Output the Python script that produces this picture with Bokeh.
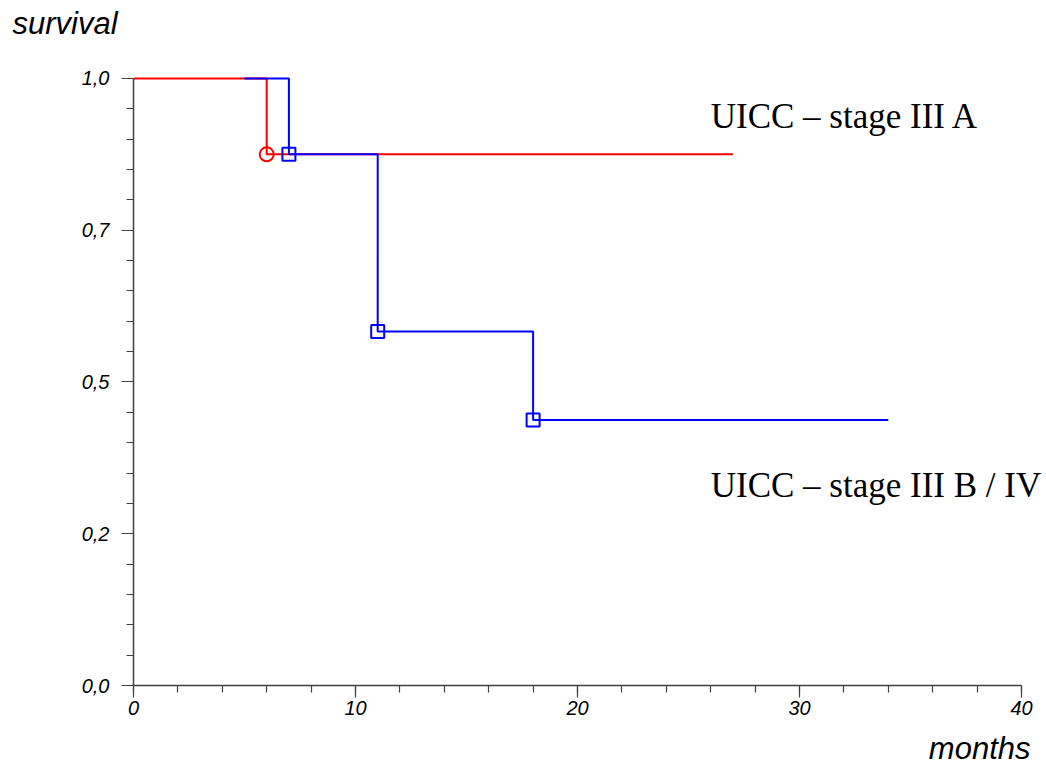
from bokeh.plotting import figure
from bokeh.models import Range1d, FixedTicker, Label, Title
from bokeh.embed import file_html
from bokeh.resources import INLINE

# ---- data ----
red_time = [0, 6, 27]
red_surv = [1.0, 0.875, 0.875]
red_event_time = [6]
red_event_surv = [0.875]

blue_time = [5, 7, 11, 18, 34]
blue_surv = [1.0, 0.875, 0.5833, 0.4375, 0.4375]
blue_event_time = [7, 11, 18]
blue_event_surv = [0.875, 0.5833, 0.4375]

x_tick_values = [0, 10, 20, 30, 40]
x_minor_values = list(range(0, 41, 2))
y_tick_values = [0.0, 0.25, 0.5, 0.75, 1.0]
y_tick_labels = ["0,0", "0,2", "0,5", "0,7", "1,0"]
y_minor_values = [i * 0.05 for i in range(21)]

label_a = "UICC – stage III A"
label_b = "UICC – stage III B / IV"

W, H = 1046, 765
p = figure(width=W, height=H, output_backend="svg", toolbar_location=None,
           x_range=Range1d(0, 40.99), y_range=Range1d(0, 1.0049),
           min_border_left=133, min_border_right=3, min_border_top=75,
           min_border_bottom=79)
p.outline_line_color = None
p.grid.visible = False
p.background_fill_color = "white"
p.border_fill_color = "white"

sans = "Liberation Sans"
for ax in (p.xaxis[0], p.yaxis[0]):
    ax.axis_line_color = "#404040"
    ax.axis_line_width = 1.5
    ax.major_tick_line_color = "#404040"
    ax.minor_tick_line_color = "#404040"
    ax.major_tick_line_width = 1.2
    ax.minor_tick_line_width = 1.2
    ax.major_tick_in = 0
    ax.minor_tick_in = 0
    ax.major_tick_out = 12
    ax.minor_tick_out = 7
    ax.major_label_text_font = sans
    ax.major_label_text_font_style = "italic"
    ax.major_label_text_font_size = "20px"
    ax.major_label_text_color = "black"

p.xaxis.bounds = (0, 40)
p.yaxis.bounds = (0, 1)
p.xaxis.ticker = FixedTicker(ticks=x_tick_values, minor_ticks=x_minor_values)
p.yaxis.ticker = FixedTicker(ticks=y_tick_values, minor_ticks=y_minor_values)
p.yaxis.major_label_overrides = {v: l for v, l in zip(y_tick_values, y_tick_labels)}
p.xaxis.major_label_standoff = 3
p.yaxis.major_label_standoff = 12

p.step(red_time, red_surv, mode="after", line_color="#ff0000", line_width=2)
p.step(blue_time, blue_surv, mode="after", line_color="#0000ff", line_width=2)
p.scatter(red_event_time, red_event_surv, marker="circle", size=14,
          line_color="#ff0000", line_width=2, fill_alpha=0)
p.scatter(blue_event_time, blue_event_surv, marker="square", size=13,
          line_color="#0000ff", line_width=2, fill_alpha=0)

p.add_layout(Label(x=26.0, y=0.937, text=label_a, text_font="Liberation Serif",
                   text_font_size="35px", text_color="black",
                   text_baseline="alphabetic"))
p.add_layout(Label(x=26.0, y=0.329, text=label_b, text_font="Liberation Serif",
                   text_font_size="35px", text_color="black",
                   text_baseline="alphabetic"))

# spacer titles push the outer titles toward the canvas edges
p.add_layout(Title(text=" ", text_font_size="10px", standoff=15), "above")
p.add_layout(Title(text="survival", align="left", offset=-121, standoff=10,
                   vertical_align="top",
                   text_font=sans, text_font_style="italic",
                   text_font_size="31px", text_color="black"), "above")
p.add_layout(Title(text=" ", text_font_size="8px", standoff=0), "below")
p.add_layout(Title(text="months", align="right", offset=13, standoff=0,
                   text_font=sans, text_font_style="italic",
                   text_font_size="31px", text_color="black"), "below")

open("out.html", "w").write(file_html(p, INLINE))
